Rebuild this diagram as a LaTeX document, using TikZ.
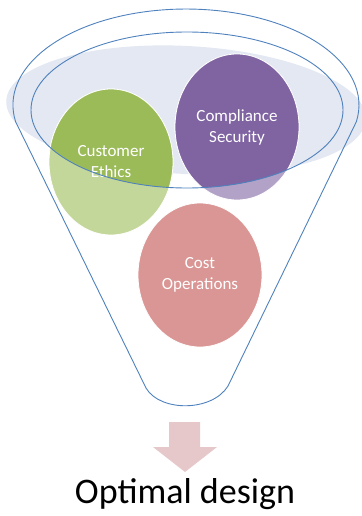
\documentclass[tikz,border=0pt]{standalone}
\usepackage{fontspec}
\setmainfont{Carlito}
\usepackage{tikz}
\definecolor{funnelblue}{RGB}{79,129,189}
\definecolor{mistblue}{RGB}{227,232,242}
\definecolor{custdark}{RGB}{155,187,89}
\definecolor{custlight}{RGB}{196,215,155}
\definecolor{compdark}{RGB}{128,100,162}
\definecolor{complight}{RGB}{179,162,199}
\definecolor{costpink}{RGB}{217,150,148}
\definecolor{arrowpink}{RGB}{231,200,202}

\begin{document}
\begin{tikzpicture}[x=1pt,y=-1pt,
    funnel/.style={funnelblue,line width=0.9pt},
    ball/.style={draw=white,line width=0.8pt},
    balltext/.style={text=white,align=center,font=\fontsize{17}{21}\selectfont}]
            \useasboundingbox (0,0) rectangle (361,516);
            \coordinate (rim) at (187,110);
            \coordinate (cust) at (111,162);
            \coordinate (comp) at (237,127);
            \coordinate (cost) at (200,275);

            \fill[mistblue,rotate around={-3:(186,110)}] (186,110) ellipse[x radius=180pt,y radius=64pt];
            \foreach \pos/\lite in {cust/custlight,comp/complight}
                \fill[\lite,ball] (\pos) ellipse[x radius=62pt,y radius=73pt];
            \begin{scope}
                \clip (rim) ellipse[x radius=156pt,y radius=78pt];
                \foreach \pos/\deep in {cust/custdark,comp/compdark}
                    \fill[\deep,ball] (\pos) ellipse[x radius=62pt,y radius=73pt];
            \end{scope}
            \fill[costpink,ball] (cost) ellipse[x radius=62pt,y radius=72pt];

            \node[balltext] (custtext) at (cust) {Customer\\Ethics};
            \node[balltext] (comptext) at (comp) {Compliance\\Security};
            \node[balltext] (costtext) at (cost) {Cost\\Operations};

            \draw[funnel] (15.6,121.7) arc[start angle=190,end angle=-10,x radius=173pt,y radius=96pt]
                -- (228,386) .. controls (212,412) and (160,412) .. (146,388) -- cycle;
            \draw[funnel] (rim) ellipse[x radius=156pt,y radius=78pt];

            \fill[arrowpink] (169,422) -- (200,422) -- (200,447) -- (217,447) -- (185,472)
                -- (153,447) -- (169,447) -- cycle;
            \node[anchor=base,font=\fontsize{36}{40}\selectfont] (result) at (185,503) {Optimal design};

        \end{tikzpicture}
\end{document}
